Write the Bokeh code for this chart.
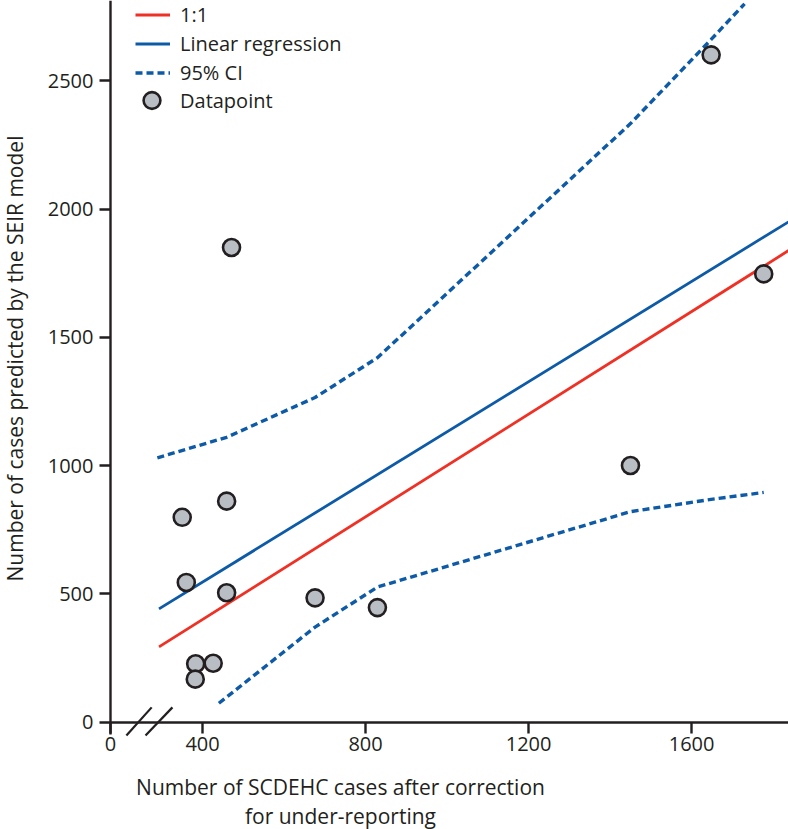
import numpy as np
from bokeh.plotting import figure
from bokeh.models import Range1d, FixedTicker, Legend, LegendItem
from bokeh.core.properties import value
from bokeh.embed import file_html
from bokeh.resources import INLINE

# ---------------- data ----------------
scdehc_cases = [350, 459, 360, 459, 676, 829, 383, 426, 382, 1450, 1648, 1777, 471]
seir_cases = [798, 861, 544, 504, 484, 446, 227, 229, 167, 1000, 2601, 1747, 1850]

identity_x = [293, 1838]
identity_y = [293, 1838]

regression_x = [293, 1838]
regression_y = [441, 1950]

ci_upper_x = [289, 459, 676, 829, 1450, 1648, 1730]
ci_upper_y = [1030, 1110, 1265, 1420, 2333, 2661, 2800]

ci_lower_x = [440, 676, 829, 1450, 1648, 1777]
ci_lower_y = [73, 370, 526, 820, 868, 895]

x_ticks = [174, 400, 800, 1200, 1600]
x_tick_labels = ["0", "400", "800", "1200", "1600"]
y_ticks = [0, 500, 1000, 1500, 2000, 2500]

x_title_lines = ["Number of SCDEHC cases after correction", "for under-reporting"]
y_title = "Number of cases predicted by the SEIR model"

# axis-break marks (data units)
break_x0 = [213, 260]
break_x1 = [275, 326]
break_y0 = [-53, -53]
break_y1 = [57, 57]

# ---------------- layout / style ----------------
W, H = 788, 829
AXIS_PX, X_AT_AXIS, PX_PER_X = 110, 174, 0.4075     # y-axis position, its value, scale
ZERO_PY, PX_PER_Y = 721.5, 0.2565                   # x-axis position, scale

X_MIN = X_AT_AXIS - AXIS_PX / PX_PER_X
X_MAX = X_AT_AXIS + (W - AXIS_PX) / PX_PER_X
Y_MAX = ZERO_PY / PX_PER_Y
Y_MIN = -(H - ZERO_PY) / PX_PER_Y

FONT = "Open Sans"
INK = "#231f20"
RED = "#ee3124"
BLUE = "#0d5aa7"
GREY = "#b9bec5"


def x_at(px):
    return X_MIN + px / PX_PER_X


def y_at(py):
    return Y_MAX - py / PX_PER_Y


p = figure(frame_width=W, frame_height=H,
           x_range=Range1d(X_MIN, X_MAX), y_range=Range1d(Y_MIN, Y_MAX),
           output_backend="svg", toolbar_location=None,
           min_border_left=0, min_border_right=0,
           min_border_top=0, min_border_bottom=0)
p.outline_line_color = None
p.xgrid.grid_line_color = None
p.ygrid.grid_line_color = None
p.background_fill_color = "white"
p.border_fill_color = "white"

r_id = p.line(identity_x, identity_y, line_color=RED, line_width=2.8)
r_reg = p.line(regression_x, regression_y, line_color=BLUE, line_width=2.8)
r_up = p.line(ci_upper_x, ci_upper_y, line_color=BLUE, line_width=3.4, line_dash="7 4")
r_lo = p.line(ci_lower_x, ci_lower_y, line_color=BLUE, line_width=3.4, line_dash="7 4")
r_pts = p.scatter(scdehc_cases, seir_cases, size=17, fill_color=GREY,
                  line_color=INK, line_width=2.6)

p.segment(x0=break_x0, y0=break_y0, x1=break_x1, y1=break_y1,
          line_color=INK, line_width=2.2)

# axes, drawn at fixed positions inside the frame
xa = p.xaxis[0]
ya = p.yaxis[0]
xa.fixed_location = 0
ya.fixed_location = X_AT_AXIS
xa.bounds = (X_AT_AXIS, X_MAX)
ya.bounds = (y_at(734), Y_MAX)
xa.ticker = FixedTicker(ticks=x_ticks)
xa.major_label_overrides = dict(zip(x_ticks, x_tick_labels))
ya.ticker = FixedTicker(ticks=y_ticks)
for ax in (xa, ya):
    ax.axis_line_width = 2.4
    ax.axis_line_color = INK
    ax.major_tick_line_width = 2.4
    ax.major_tick_line_color = INK
    ax.major_tick_out = 11
    ax.major_tick_in = 0
    ax.minor_tick_out = 0
    ax.minor_tick_in = 0
    ax.major_label_text_font = FONT
    ax.major_label_text_font_size = "20px"
    ax.major_label_text_color = INK
xa.major_label_standoff = 4
ya.major_label_standoff = 6

# axis titles
title_style = dict(text_font=value(FONT), text_font_size="21px", text_color=INK,
                   text_align="center", text_baseline="middle")
p.text(x=[x_at(14)], y=[y_at(358)], text=[y_title], angle=np.pi / 2, **title_style)
p.text(x=[x_at(340), x_at(340)], y=[y_at(786), y_at(815)], text=x_title_lines, **title_style)

# legends (lines, then the datapoint entry with a larger marker box)
leg_style = dict(padding=0, margin=0, label_standoff=10,
                 label_text_font=FONT, label_text_font_size="20px", label_text_color=INK,
                 background_fill_alpha=0, border_line_color=None)
legend1 = Legend(items=[
    LegendItem(label="1:1", renderers=[r_id]),
    LegendItem(label="Linear regression", renderers=[r_reg]),
    LegendItem(label="95% CI", renderers=[r_up]),
], location=(135, H - 87), spacing=0, glyph_width=35, glyph_height=29,
    label_height=29, **leg_style)
legend2 = Legend(items=[LegendItem(label="Datapoint", renderers=[r_pts])],
                 location=(129, H - 121), glyph_width=45, glyph_height=42,
                 label_height=42, **{**leg_style, "label_standoff": 6})
p.add_layout(legend1)
p.add_layout(legend2)

open("out.html", "w").write(file_html(p, INLINE))
